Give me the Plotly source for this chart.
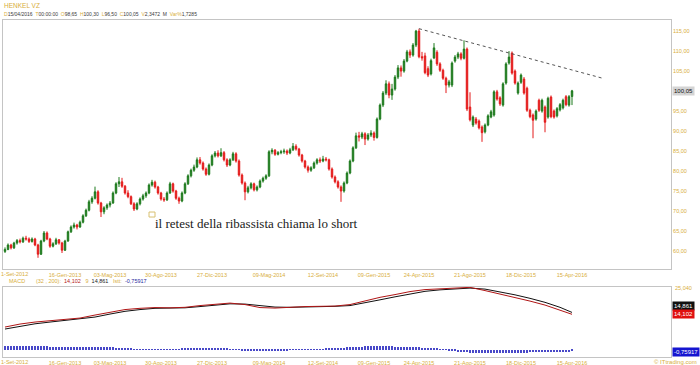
import plotly.graph_objects as go

# ---------------- data ----------------
bar_index = list(range(190))

first_label = "1-Set-2012"
x_tick_bars = [20, 35, 52, 69, 88, 106, 123, 138, 155, 172, 189]
x_tick_labels = ["16-Gen-2013", "03-Mag-2013", "30-Ago-2013", "27-Dic-2013",
                 "09-Mag-2014", "12-Set-2014", "09-Gen-2015", "24-Apr-2015", "21-Ago-2015",
                 "18-Dic-2015", "15-Apr-2016"]

price_ticks = [60, 65, 70, 75, 80, 85, 90, 95, 105, 110, 115]
price_tick_labels = ["60,00", "65,00", "70,00", "75,00", "80,00", "85,00", "90,00", "95,00",
                     "105,00", "110,00", "115,00"]

opens = [59.9,60.4,61.5,60.8,62.0,62.6,62.3,63.2,63.0,62.4,
         63.0,61.5,59.2,62.5,64.5,63.0,61.2,61.8,62.8,62.0,
         60.2,62.5,64.8,66.0,66.5,66.0,67.2,68.8,70.2,72.3,
         73.2,74.8,72.0,69.8,70.8,71.5,72.0,74.5,76.8,77.3,
         76.2,74.5,73.6,71.8,70.5,71.8,73.0,73.8,74.5,76.5,
         77.2,76.0,74.5,73.0,72.8,74.5,76.8,75.0,73.2,72.5,
         74.5,76.8,78.8,80.2,81.0,82.8,82.0,80.5,79.2,81.5,
         83.8,84.5,83.8,84.6,82.8,81.5,82.8,84.3,82.5,79.0,
         77.0,74.8,75.8,76.8,75.3,76.0,77.5,78.2,78.8,84.8,
         85.2,84.2,84.6,84.8,85.0,84.5,85.3,86.2,85.5,84.0,
         82.5,81.0,80.2,80.8,82.0,82.8,82.5,83.0,82.8,80.5,
         78.5,77.3,76.0,75.0,77.0,79.5,82.5,85.8,88.8,88.5,
         89.3,88.0,89.0,89.5,88.4,93.0,96.5,99.5,101.8,99.0,
         100.5,103.5,105.8,105.0,107.5,109.8,109.0,111.5,115.0,108.6,
         108.8,105.6,104.3,108.3,109.7,106.8,105.2,103.2,101.5,101.5,
         107.5,108.5,109.3,108.2,110.5,96.0,91.5,93.0,92.5,91.0,
         89.8,91.5,93.5,94.0,99.8,98.3,96.5,102.0,107.0,109.5,
         105.0,99.5,102.2,103.0,100.7,95.2,94.0,93.0,97.7,95.0,
         96.0,93.5,98.5,95.0,93.8,95.3,95.8,98.6,96.5,98.65]

highs = [60.9,61.9,61.8,62.3,63.0,63.1,63.6,63.8,63.4,63.4,
         63.3,61.8,62.8,65.0,64.9,63.3,62.2,63.3,63.0,62.3,
         62.8,65.1,66.4,67.1,66.8,67.6,69.2,70.6,72.8,73.7,
         76.1,75.2,72.3,71.2,71.9,72.5,74.9,77.2,78.5,78.3,
         76.5,75.2,73.9,72.2,72.2,73.4,74.3,74.9,76.9,77.8,
         77.6,76.3,74.8,73.5,74.9,77.3,77.1,75.3,73.6,74.9,
         77.2,79.2,80.6,81.6,83.4,83.5,82.4,80.9,81.9,84.2,
         85.0,85.2,85.7,85.0,83.2,83.2,84.8,84.7,82.9,79.4,
         77.4,76.3,77.2,77.1,76.4,77.9,78.6,79.2,85.2,85.7,
         85.5,85.0,85.3,85.6,85.4,85.8,87.0,86.7,85.8,84.3,
         82.8,81.4,81.2,82.4,83.2,83.4,83.8,83.5,83.1,80.9,
         78.9,77.7,76.4,77.4,79.9,82.9,86.2,89.6,89.8,89.8,
         89.7,89.5,90.2,89.9,93.4,96.9,100.0,102.7,102.4,101.8,
         104.0,106.5,106.4,108.0,110.3,110.4,112.0,115.3,115.6,109.8,
         109.6,106.2,108.1,112.0,110.2,107.2,105.6,103.6,102.8,107.4,
         109.0,109.8,109.7,112.7,110.9,99.7,93.9,93.5,92.9,91.4,
         91.9,94.2,95.3,100.2,100.3,98.7,102.2,107.2,110.0,109.9,
         105.4,102.4,104.4,103.5,101.1,95.6,94.4,95.4,98.1,98.1,
         96.4,98.6,98.9,95.4,96.0,97.0,98.1,99.0,99.0,100.30]

lows = [59.5,60.2,60.4,60.5,61.6,61.9,62.0,62.6,62.0,62.1,
        61.2,58.3,59.0,62.2,62.7,60.8,60.9,61.5,61.6,59.5,
        60.0,62.3,64.5,65.6,65.4,65.8,66.9,68.5,69.9,71.8,
        72.9,71.6,68.5,69.2,70.3,70.9,71.8,74.2,76.0,75.8,
        74.1,73.2,71.5,70.0,70.2,71.4,72.6,73.3,74.2,76.1,
        75.6,74.1,72.6,72.3,72.5,74.3,74.6,72.8,71.8,72.2,
        74.2,76.5,78.4,79.8,80.7,81.6,80.1,78.8,78.9,81.2,
        83.4,83.4,83.5,82.4,81.0,81.2,82.5,82.1,78.6,76.6,
        72.7,74.4,75.4,74.9,74.9,75.7,77.1,77.8,78.5,84.2,
        83.8,83.9,84.2,84.3,84.0,84.2,85.0,85.1,83.6,82.1,
        80.6,79.6,79.8,80.5,81.6,82.0,82.2,82.4,80.1,78.1,
        76.9,75.6,72.3,74.6,76.7,79.2,82.2,85.5,87.4,88.0,
        86.5,87.6,88.5,87.6,88.1,92.7,96.0,99.0,98.2,97.8,
        100.1,103.0,103.6,104.6,107.2,108.3,108.6,111.0,108.2,107.6,
        104.2,103.5,103.9,108.0,106.3,104.8,102.8,99.5,100.9,101.0,
        107.1,108.0,107.7,107.9,95.0,92.4,91.0,91.6,90.4,87.3,
        89.4,91.2,93.2,93.6,97.6,96.3,96.1,101.6,106.6,104.1,
        101.6,99.1,101.8,99.1,94.8,93.2,88.2,92.6,94.8,94.6,
        89.7,93.1,93.2,93.1,93.4,94.9,95.4,96.2,96.1,96.50]

closes = [60.4,61.5,60.8,62.0,62.6,62.3,63.2,63.0,62.4,63.0,
          61.5,59.2,62.5,64.5,63.0,61.2,61.8,62.8,62.0,60.2,
          62.5,64.8,66.0,66.5,66.0,67.2,68.8,70.2,72.3,73.2,
          74.8,72.0,69.8,70.8,71.5,72.0,74.5,76.8,77.3,76.2,
          74.5,73.6,71.8,70.5,71.8,73.0,73.8,74.5,76.5,77.2,
          76.0,74.5,73.0,72.8,74.5,76.8,75.0,73.2,72.5,74.5,
          76.8,78.8,80.2,81.0,82.8,82.0,80.5,79.2,81.5,83.8,
          84.5,83.8,84.6,82.8,81.5,82.8,84.3,82.5,79.0,77.0,
          74.8,75.8,76.8,75.3,76.0,77.5,78.2,78.8,84.8,85.2,
          84.2,84.6,84.8,85.0,84.5,85.3,86.2,85.5,84.0,82.5,
          81.0,80.2,80.8,82.0,82.8,82.5,83.0,82.8,80.5,78.5,
          77.3,76.0,75.0,77.0,79.5,82.5,85.8,88.8,88.5,89.3,
          88.0,89.0,89.5,88.4,93.0,96.5,99.5,101.8,99.0,100.5,
          103.5,105.8,105.0,107.5,109.8,109.0,111.5,115.0,108.6,108.3,
          104.6,104.0,107.6,110.8,106.8,105.2,103.2,101.5,102.3,107.0,
          108.5,109.3,108.2,110.5,95.5,92.8,93.5,92.0,90.8,89.6,
          91.5,93.8,94.8,99.8,98.0,96.8,101.8,106.8,108.5,104.5,
          102.0,102.0,104.0,99.5,95.2,93.6,92.7,95.0,95.2,97.7,
          92.2,98.2,93.6,93.5,95.6,96.6,97.7,96.6,98.6,100.05]

macd_bars = [0, 5, 10, 15, 20, 25, 30, 35, 40, 45, 50, 55, 60, 65, 70, 75, 80, 85, 90, 95,
             100, 105, 110, 115, 120, 125, 130, 135, 140, 145, 150, 155, 160, 165, 170, 175,
             180, 185, 189]
macd_vals = [9.0, 10.2, 11.0, 11.6, 12.0, 12.6, 13.8, 15.0, 16.0, 16.5, 16.8, 16.7, 16.9, 17.6,
             18.2, 18.6, 18.0, 16.8, 16.6, 17.0, 17.2, 17.3, 17.4, 18.0, 19.6, 20.9, 22.0, 23.2,
             24.0, 24.4, 24.7, 24.9, 23.6, 22.2, 21.0, 19.4, 17.8, 15.8, 14.102]
signal_vals = [8.2, 9.3, 10.3, 11.0, 11.6, 12.2, 13.0, 14.2, 15.3, 16.0, 16.5, 16.6, 16.7, 17.2,
               17.8, 18.3, 18.2, 17.5, 17.0, 16.9, 17.0, 17.2, 17.3, 17.6, 18.6, 19.9, 21.1, 22.3,
               23.3, 23.9, 24.3, 24.6, 24.2, 23.2, 21.9, 20.5, 18.9, 16.9, 14.861]
hist_vals = [1.5,1.5,1.5,1.5,1.5,1.5,1.5,1.4,1.4,1.4,
             1.4,1.4,1.3,1.3,1.3,1.2,1.2,1.2,1.2,1.1,
             1.1,1.1,1.0,1.0,1.0,1.0,1.0,1.1,1.1,1.2,
             1.2,1.2,1.2,1.1,1.1,1.0,0.9,0.8,0.6,0.5,
             0.4,0.3,0.3,0.2,0.2,0.2,0.2,0.2,0.2,0.2,
             0.2,0.2,0.2,0.2,0.2,0.2,0.2,0.2,0.2,0.3,
             0.3,0.3,0.3,0.3,0.3,0.3,0.3,0.3,0.3,0.3,
             0.3,0.3,0.3,0.3,0.3,0.2,0.2,0.1,-0.1,-0.3,
             -0.4,-0.5,-0.5,-0.6,-0.6,-0.6,-0.6,-0.6,-0.6,-0.5,
             -0.5,-0.5,-0.4,-0.3,-0.2,0.1,0.2,0.2,0.2,0.2,
             0.2,0.2,0.2,0.2,0.2,0.2,0.2,0.3,0.3,0.4,
             0.5,0.6,0.7,0.8,0.9,1.0,1.1,1.1,1.2,1.2,
             1.3,1.3,1.3,1.3,1.3,1.3,1.3,1.3,1.3,1.3,
             1.2,1.2,1.2,1.2,1.1,1.1,1.0,1.0,0.9,0.8,
             0.7,0.6,0.5,0.4,0.3,0.2,0.1,-0.1,-0.3,-0.5,
             -0.7,-0.8,-0.9,-1.0,-1.1,-1.2,-1.3,-1.3,-1.4,-1.4,
             -1.4,-1.4,-1.4,-1.4,-1.4,-1.4,-1.3,-1.3,-1.3,-1.3,
             -1.3,-1.2,-1.2,-1.2,-1.2,-1.1,-1.1,-1.1,-1.1,-1.0,
             -1.0,-1.0,-1.0,-0.9,-0.9,-0.9,-0.8,-0.8,-0.8,-0.75917]

trend_bars = [138, 199]
trend_prices = [115.6, 103.25]

# ---------------- style ----------------
W, H = 700, 365
GREEN = "#1d7a1d"
RED = "#e41b1b"
BLUE = "#4848c8"
GOLD = "#d8ae3c"
DARK = "#3a3a3a"
FRAME = "#c4c4c4"
FONT = "Liberation Sans"


def px(x):
    return x / W


def py(y):
    return 1 - y / H


fig = go.Figure()
fig.add_trace(go.Candlestick(
    x=bar_index, open=opens, high=highs, low=lows, close=closes,
    increasing=dict(line=dict(color=GREEN, width=1), fillcolor=GREEN),
    decreasing=dict(line=dict(color=RED, width=1), fillcolor=RED),
    whiskerwidth=0, xaxis="x", yaxis="y", showlegend=False, hoverinfo="skip"))
fig.add_trace(go.Scatter(x=trend_bars, y=trend_prices, mode="lines",
                         line=dict(color="#555555", width=1, dash="3px,3px"),
                         xaxis="x", yaxis="y", showlegend=False, hoverinfo="skip"))
fig.add_trace(go.Bar(x=bar_index, y=hist_vals, width=0.3,
                     marker=dict(color=BLUE, line=dict(width=0)),
                     xaxis="x2", yaxis="y2", showlegend=False, hoverinfo="skip"))
fig.add_trace(go.Scatter(x=macd_bars, y=signal_vals, mode="lines",
                         line=dict(color="#111111", width=1),
                         xaxis="x2", yaxis="y2", showlegend=False, hoverinfo="skip"))
fig.add_trace(go.Scatter(x=macd_bars, y=macd_vals, mode="lines",
                         line=dict(color="#b01515", width=1),
                         xaxis="x2", yaxis="y2", showlegend=False, hoverinfo="skip"))

xdom = [px(3), px(671)]
xrange = [-0.67, 222]
axis_common = dict(showgrid=False, zeroline=False, showline=True, mirror=True,
                   linecolor=FRAME, linewidth=1, ticks="", automargin=False)
tickfont = dict(family=FONT, size=5.5, color=GOLD)

fig.update_layout(
    width=W, height=H, autosize=False,
    margin=dict(l=0, r=0, t=0, b=0, autoexpand=False),
    paper_bgcolor="white", plot_bgcolor="white",
    bargap=0,
    xaxis=dict(domain=xdom, range=xrange, anchor="y", tickvals=x_tick_bars,
               ticktext=x_tick_labels, tickfont=tickfont, rangeslider=dict(visible=False),
               ticklabeloverflow="allow", **axis_common),
    yaxis=dict(domain=[py(269), py(19.5)], range=[55.5, 117.9], anchor="x", side="right",
               tickvals=price_ticks, ticktext=price_tick_labels, tickfont=tickfont,
               ticklabeloverflow="allow", **axis_common),
    xaxis2=dict(domain=xdom, range=xrange, anchor="y2", tickvals=x_tick_bars,
                ticktext=x_tick_labels, tickfont=tickfont, ticklabeloverflow="allow",
                **axis_common),
    yaxis2=dict(domain=[py(357), py(287)], range=[-3.0, 25.04], anchor="x2",
                showticklabels=False, **axis_common),
)

ann = []


def txt(t, x, y, color, size=5.5, xanchor="left", bg=None, family=FONT):
    d = dict(text=t, x=px(x), y=py(y), xref="paper", yref="paper", showarrow=False,
             xanchor=xanchor, yanchor="middle", font=dict(family=family, size=size, color=color))
    if bg:
        d.update(bgcolor=bg, borderpad=1)
    ann.append(d)


def span(t, c):
    return "<span style='color:%s'>%s</span>" % (c, t)


# first date label (shifted to stay inside the page, as in the original)
txt(first_label, -1, 274, GOLD)
txt(first_label, -1, 362, GOLD)

# header
txt("HENKEL VZ", 2, 5, GOLD, size=6.5)
header = [("D", GOLD), ("15/04/2016 ", DARK), ("T", GOLD), ("00:00:00 ", DARK),
          ("O", GOLD), ("98,65 ", DARK), ("H", GOLD), ("100,30 ", DARK),
          ("L", GOLD), ("96,50 ", DARK), ("C", GOLD), ("100,05 ", DARK),
          ("V", GOLD), ("2,3472 M ", DARK), ("Var%", GOLD), ("1,7285", DARK)]
txt("".join(span(t.replace(" ", "\u00a0\u00a0"), c) for t, c in header), 1.5, 14, DARK, size=5)

# MACD legend row
macd_row = [("MACD", GOLD), ("(32 , 200):", GOLD), ("14,102", "#b52020"),
            ("9", GOLD), ("14,861", "#222222"), ("Istt:", GOLD), ("-0,75917", "#2a2aa0")]
gaps = ["\u00a0" * 7, "\u00a0" * 2, "\u00a0" * 3, "\u00a0" * 2, "\u00a0" * 3, "\u00a0" * 2, ""]
txt("".join(span(t, c) + g for (t, c), g in zip(macd_row, gaps)), 7, 281, GOLD, size=5.5)

# right side value boxes
txt("100,05", 672, 90.7, "#111111", size=6, bg="#d4d4d4")
txt("25,040", 673, 287.5, GOLD)
txt("14,861", 672, 306, "white", size=6, bg="#111111")
txt("14,102", 672, 313.5, "white", size=6, bg="#e01010")
txt("-0,75917", 672, 351.5, "white", size=6, bg="#1515d0")
txt("\u00a9 ITtrading.com", 699, 361.5, GOLD, size=6, xanchor="right")

# chart comment
ann.append(dict(text="il retest della ribassista chiama lo short", x=49.3, y=67.0,
                xref="x", yref="y", showarrow=False, xanchor="left", yanchor="middle",
                font=dict(family="Liberation Serif", size=13, color="#1a1a1a")))

fig.update_layout(annotations=ann)
fig.add_shape(type="rect", xref="x", yref="y", x0=48.0, x1=50.0, y0=68.5, y1=69.75,
              line=dict(color="#d8c070", width=1), fillcolor="rgba(0,0,0,0)")

fig.write_html("out.html")
